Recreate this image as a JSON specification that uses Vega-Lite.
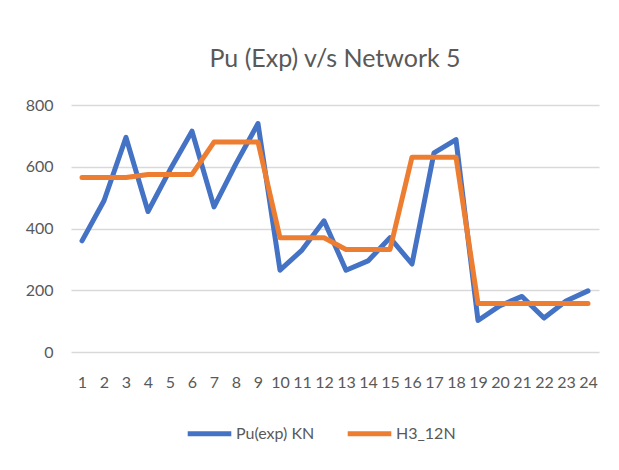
{
  "$schema": "https://vega.github.io/schema/vega-lite/v6.json",
  "width": 528,
  "height": 247,
  "autosize": {"type": "none"},
  "padding": {"left": 71, "top": 105, "right": 20, "bottom": 118},
  "background": "white",
  "title": {
    "text": "Pu (Exp) v/s Network 5",
    "font": "Lato",
    "fontSize": 25,
    "fontWeight": "normal",
    "color": "#595959",
    "anchor": "middle",
    "offset": 25
  },
  "data": {
    "values": [
      {"n": 1, "pu": 360, "h3": 565},
      {"n": 2, "pu": 490, "h3": 565},
      {"n": 3, "pu": 695, "h3": 565},
      {"n": 4, "pu": 455, "h3": 575},
      {"n": 5, "pu": 590, "h3": 575},
      {"n": 6, "pu": 715, "h3": 575},
      {"n": 7, "pu": 470, "h3": 680},
      {"n": 8, "pu": 610, "h3": 680},
      {"n": 9, "pu": 740, "h3": 680},
      {"n": 10, "pu": 265, "h3": 370},
      {"n": 11, "pu": 330, "h3": 370},
      {"n": 12, "pu": 425, "h3": 370},
      {"n": 13, "pu": 265, "h3": 332},
      {"n": 14, "pu": 295, "h3": 332},
      {"n": 15, "pu": 370, "h3": 332},
      {"n": 16, "pu": 285, "h3": 631},
      {"n": 17, "pu": 645, "h3": 631},
      {"n": 18, "pu": 688, "h3": 631},
      {"n": 19, "pu": 102, "h3": 157},
      {"n": 20, "pu": 150, "h3": 157},
      {"n": 21, "pu": 180, "h3": 157},
      {"n": 22, "pu": 110, "h3": 157},
      {"n": 23, "pu": 165, "h3": 157},
      {"n": 24, "pu": 198, "h3": 157}
    ]
  },
  "encoding": {
    "x": {
      "field": "n",
      "type": "ordinal",
      "scale": {"paddingInner": 0, "paddingOuter": 0},
      "axis": {
        "title": null,
        "labelAngle": 0,
        "domain": false,
        "ticks": false,
        "labelPadding": 22,
        "labelFont": "Lato",
        "labelFontSize": 16,
        "labelColor": "#595959"
      }
    }
  },
  "layer": [
    {
      "mark": {"type": "line", "strokeWidth": 5, "strokeJoin": "round", "strokeCap": "round"},
      "encoding": {
        "y": {
          "field": "pu",
          "type": "quantitative",
          "scale": {"domain": [0, 800]},
          "axis": {
            "title": null,
            "values": [0, 200, 400, 600, 800],
            "domain": false,
            "ticks": false,
            "labelPadding": 18,
            "labelFont": "Lato",
            "labelFontSize": 16,
            "labelColor": "#595959",
            "gridColor": "#d9d9d9",
            "gridWidth": 1.5
          }
        },
        "color": {
          "datum": "Pu(exp) KN",
          "type": "nominal",
          "scale": {"domain": ["Pu(exp) KN", "H3_12N"], "range": ["#4472C4", "#ED7D31"]},
          "legend": {
            "title": null,
            "orient": "none",
            "legendX": 114,
            "legendY": 304,
            "direction": "horizontal",
            "symbolType": "stroke",
            "symbolSize": 1900,
            "symbolStrokeWidth": 5,
            "labelFont": "Lato",
            "labelFontSize": 16,
            "labelColor": "#595959",
            "columnPadding": 22,
            "labelOffset": 2
          }
        }
      }
    },
    {
      "mark": {"type": "line", "strokeWidth": 5, "strokeJoin": "round", "strokeCap": "round"},
      "encoding": {
        "y": {"field": "h3", "type": "quantitative"},
        "color": {"datum": "H3_12N", "type": "nominal"}
      }
    }
  ],
  "config": {
    "view": {"stroke": null}
  }
}
